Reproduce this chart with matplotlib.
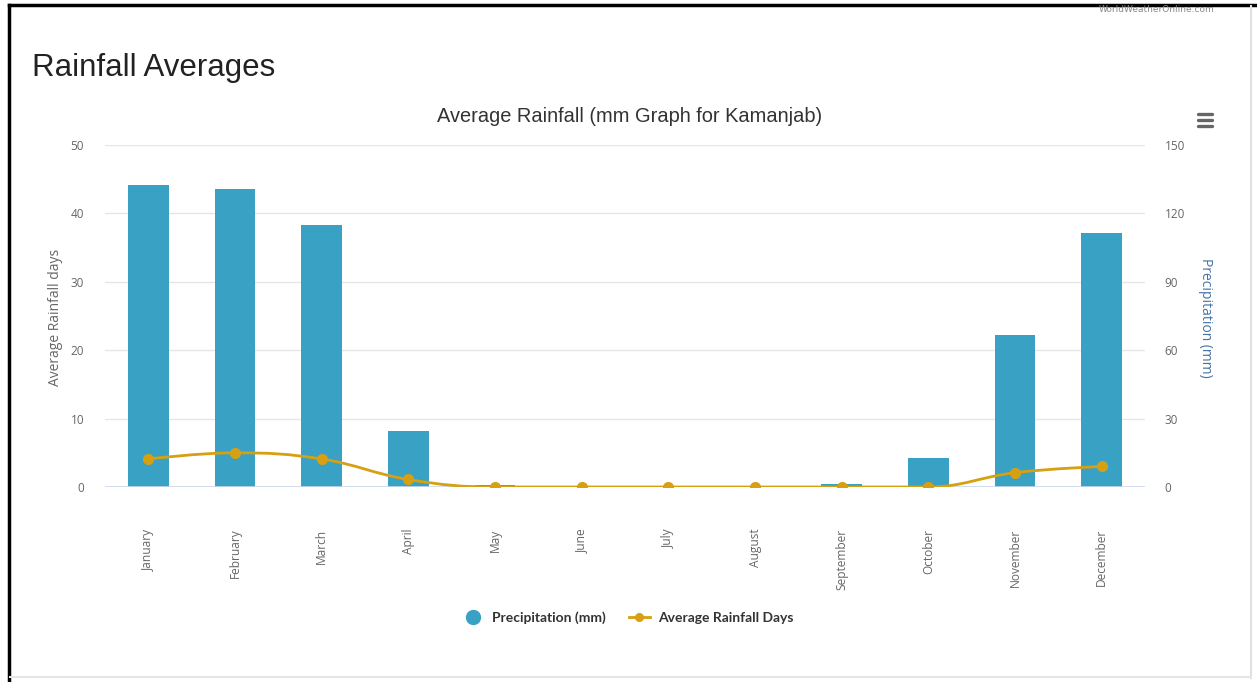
import numpy as np
import matplotlib
matplotlib.use("Agg")
import matplotlib.pyplot as plt
from matplotlib.path import Path
from matplotlib.patches import PathPatch
from matplotlib.lines import Line2D

months = ["January", "February", "March", "April", "May", "June", "July",
          "August", "September", "October", "November", "December"]
precip_mm = [132.5, 130.7, 114.9, 24.6, 1.0, 0.0, 0.0, 0.0, 1.3, 12.7, 66.7, 111.4]
rain_days = [4.1, 5.0, 4.1, 1.1, 0.0, 0.0, 0.0, 0.0, 0.0, 0.0, 2.1, 3.0]
days_ticks = [0, 10, 20, 30, 40, 50]
mm_ticks = [0, 30, 60, 90, 120, 150]

BAR = "#38a1c4"
GOLD = "#d7a012"
GRID = "#e6e6e6"
TXT = "#666666"

W, H = 1257, 682
fig = plt.figure(figsize=(W / 100, H / 100), dpi=100)


def fx(px):
    return px / W


def fy(py):
    return 1 - py / H


def spline_path(xs, ys, smoothing=1.5):
    # cubic bezier spline in the same style as highcharts' "spline" series
    n = len(xs)
    left = [None] * n
    right = [None] * n
    denom = smoothing + 1
    for i in range(1, n - 1):
        px, py = xs[i], ys[i]
        lx, ly = xs[i - 1], ys[i - 1]
        nx, ny = xs[i + 1], ys[i + 1]
        lcx = (smoothing * px + lx) / denom
        lcy = (smoothing * py + ly) / denom
        rcx = (smoothing * px + nx) / denom
        rcy = (smoothing * py + ny) / denom
        if rcx != lcx:
            corr = (rcy - lcy) * (rcx - px) / (rcx - lcx) + py - rcy
            lcy += corr
            rcy += corr
        if lcy > ly and lcy > py:
            lcy = max(ly, py)
            rcy = 2 * py - lcy
        elif lcy < ly and lcy < py:
            lcy = min(ly, py)
            rcy = 2 * py - lcy
        if rcy > ny and rcy > py:
            rcy = max(ny, py)
            lcy = 2 * py - rcy
        elif rcy < ny and rcy < py:
            rcy = min(ny, py)
            lcy = 2 * py - rcy
        left[i] = (lcx, lcy)
        right[i] = (rcx, rcy)
    verts = [(xs[0], ys[0])]
    codes = [Path.MOVETO]
    for i in range(1, n):
        c1 = right[i - 1] or (xs[i - 1], ys[i - 1])
        c2 = left[i] or (xs[i], ys[i])
        verts += [c1, c2, (xs[i], ys[i])]
        codes += [Path.CURVE4] * 3
    return Path(verts, codes)


# plot area
ax_mm = fig.add_axes([fx(105), fy(487), fx(1145) - fx(105), fy(145) - fy(487)])
ax_days = ax_mm.twinx()
ax_mm.set_zorder(1)
ax_days.set_zorder(2)
ax_days.patch.set_visible(False)

x = np.arange(len(months))
ax_mm.bar(x, precip_mm, width=0.47, color=BAR, zorder=3)
ax_mm.set_ylim(0, 150)
ax_mm.set_yticks(mm_ticks)
ax_mm.yaxis.tick_right()
ax_mm.grid(axis="y", color=GRID, lw=1, zorder=0)
ax_mm.axhline(0, color="#ccd6eb", lw=1.2, zorder=4)

path = spline_path(list(x.astype(float)), rain_days)
ax_days.add_patch(PathPatch(path, facecolor="none", edgecolor=GOLD, lw=2, zorder=5))
ax_days.plot(x, rain_days, ls="none", marker="o", ms=7, color=GOLD, zorder=6)
ax_days.set_ylim(0, 50)
ax_days.set_yticks(days_ticks)
ax_days.yaxis.tick_left()

ax_mm.set_xlim(-0.5, len(months) - 0.5)
ax_mm.set_xticks(x)
ax_mm.set_xticklabels(months, rotation=90, va="top", ha="center",
                      fontsize=8.6, color=TXT, family="Open Sans")
ax_mm.tick_params(axis="x", length=0, pad=30)
ax_mm.tick_params(axis="y", length=0, pad=14, labelsize=8.5, labelcolor=TXT)
ax_days.tick_params(axis="y", length=0, pad=15, labelsize=8.5, labelcolor=TXT)
for lab in ax_mm.get_yticklabels() + ax_days.get_yticklabels():
    lab.set_family("Open Sans")

for a in (ax_mm, ax_days):
    for s in a.spines.values():
        s.set_visible(False)

# axis titles
fig.text(fx(56), fy(317), "Average Rainfall days", rotation=90, ha="center",
         va="center", fontsize=10, color=TXT, family="Open Sans")
fig.text(fx(1205), fy(318), "Precipitation (mm)", rotation=270, ha="center",
         va="center", fontsize=10, color="#4572a7", family="Open Sans")

# titles
fig.text(fx(32), fy(68), "Rainfall Averages", ha="left", va="center",
         fontsize=22.5, color="#222222", family="Liberation Sans")
fig.text(fx(630), fy(117), "Average Rainfall (mm Graph for Kamanjab)",
         ha="center", va="center", fontsize=14.4, color="#333333",
         family="Liberation Sans")
fig.text(fx(1157), fy(10), "WorldWeatherOnline.com", ha="center", va="center",
         fontsize=6.5, color="#888888", family="DejaVu Sans")

# legend
handles = [
    Line2D([], [], ls="none", marker="o", ms=10, color=BAR),
    Line2D([], [], color=GOLD, lw=2, marker="o", ms=5.5),
]
fig.legend(handles, ["Precipitation (mm)", "Average Rainfall Days"],
           loc="center", bbox_to_anchor=(fx(628), fy(618)), ncol=2,
           frameon=False, handlelength=1.5, handletextpad=0.6,
           columnspacing=1.7, prop={"family": "Lato", "weight": "bold", "size": 10},
           labelcolor="#333333")

# menu icon
for yy in (114, 120, 126):
    fig.add_artist(Line2D([fx(1198), fx(1212)], [fy(yy), fy(yy)],
                          color="#666666", lw=2.4, solid_capstyle="round"))

# frame around the page
fig.add_artist(Line2D([fx(9), fx(9)], [0, fy(4.5)], color="black", lw=2.5))
fig.add_artist(Line2D([fx(9), 1], [fy(4.5), fy(4.5)], color="black", lw=2.5))
fig.add_artist(Line2D([fx(1251), fx(1251)], [fy(678), fy(6)], color="#e0e0e0", lw=1.5))
fig.add_artist(Line2D([fx(10), fx(1251)], [fy(677), fy(677)], color="#e6e6e6", lw=1.5))

fig.savefig("out.png", dpi=100)
